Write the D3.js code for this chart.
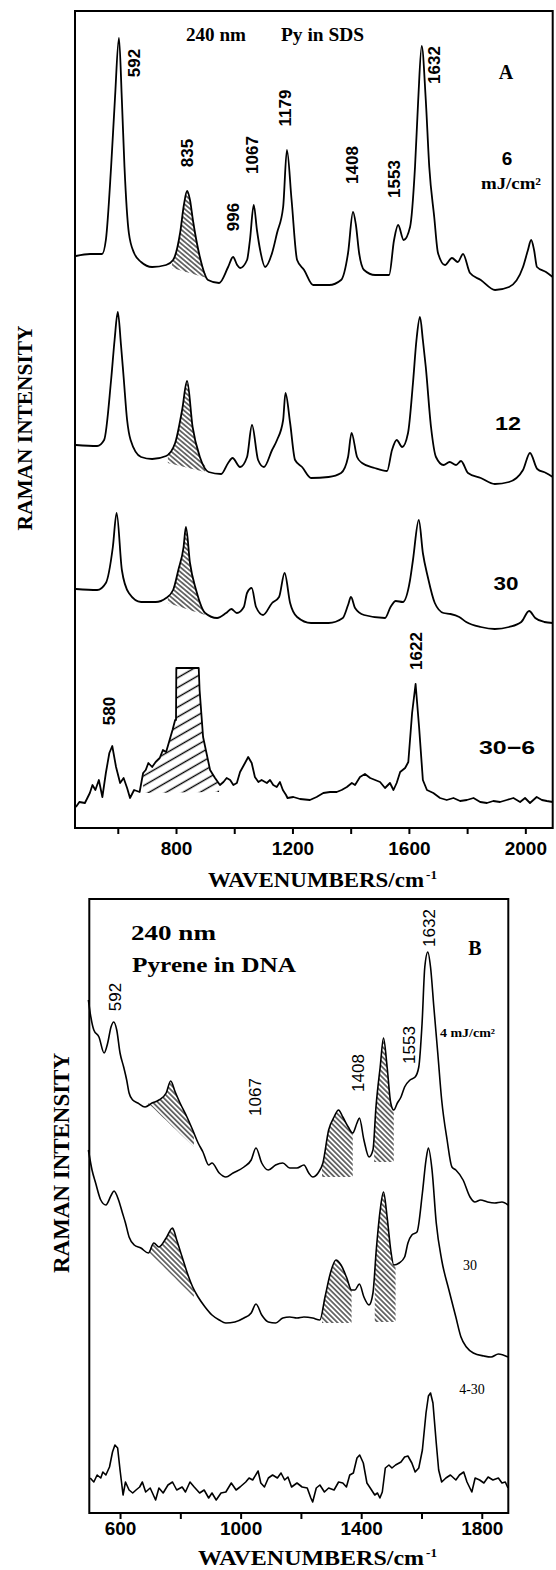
<!DOCTYPE html>
<html><head><meta charset="utf-8">
<script src="https://cdn.jsdelivr.net/npm/d3@7"></script>
<style>body{margin:0;background:#fff}svg{display:block}</style>
</head><body>
<script>
// ---------------- DATA (wavenumber cm-1, intensity arbitrary units) ----------------
const ticksA = [600, 800, 1000, 1200, 1400, 1600, 1800, 2000];
const tickLabelsA = [800, 1200, 1600, 2000];
const ticksB = [600, 800, 1000, 1200, 1400, 1600, 1800];
const tickLabelsB = [600, 1000, 1400, 1800];

const specA6 = [[456,572],[505,574],[546,574],[559,588],[577,661],[590,728],[604,790],[614,728],[623,661],[638,595],[656,575],[680,566],[718,561],[766,563],[790,568],[814,595],[827,623],[838,637],[848,628],[858,608],[882,571],[910,548],[948,545],[979,561],[996,571],[1010,563],[1020,560],[1044,568],[1054,588],[1067,623],[1078,598],[1089,578],[1106,561],[1130,575],[1147,595],[1168,621],[1181,678],[1197,628],[1216,568],[1240,558],[1271,543],[1326,543],[1367,548],[1391,575],[1408,616],[1418,603],[1429,575],[1446,558],[1484,553],[1532,553],[1549,588],[1563,603],[1582,588],[1604,601],[1621,661],[1632,728],[1644,782],[1658,728],[1670,661],[1687,611],[1700,575],[1724,563],[1748,570],[1768,566],[1786,574],[1810,555],[1847,548],[1896,538],[1944,541],[1992,561],[2009,578],[2020,588],[2030,578],[2040,561],[2071,556],[2094,551]];

const specA12 = [[456,383],[529,382],[553,388],[577,448],[589,488],[600,516],[611,483],[620,451],[632,408],[644,388],[680,371],[718,369],[766,372],[797,385],[821,418],[838,447],[857,401],[882,371],[912,356],[955,354],[979,365],[994,370],[1020,361],[1044,371],[1061,403],[1082,368],[1102,361],[1130,378],[1147,388],[1168,408],[1176,435],[1192,405],[1209,368],[1233,361],[1264,350],[1324,351],[1367,355],[1391,371],[1403,395],[1422,371],[1439,365],[1482,360],[1525,357],[1542,378],[1558,388],[1577,381],[1597,395],[1614,445],[1626,488],[1638,511],[1648,488],[1658,461],[1676,401],[1693,371],[1719,363],[1740,366],[1762,363],[1779,367],[1803,355],[1847,350],[1895,344],[1944,346],[1992,358],[2016,375],[2041,359],[2071,355],[2094,351]];

const specA30 = [[456,239],[529,238],[559,245],[583,281],[596,315],[614,258],[638,235],[680,226],[730,226],[766,230],[790,238],[808,258],[826,281],[834,301],[848,265],[869,238],[900,215],[941,210],[972,215],[990,219],[1009,215],[1033,221],[1044,235],[1060,240],[1075,221],[1099,213],[1130,225],[1154,231],[1173,255],[1192,225],[1216,211],[1264,205],[1324,205],[1373,210],[1391,223],[1401,231],[1415,220],[1446,213],[1518,210],[1537,221],[1555,227],[1579,226],[1604,248],[1614,268],[1634,308],[1648,275],[1665,251],[1689,225],[1719,215],[1743,214],[1773,211],[1797,206],[1847,201],[1895,199],[1944,201],[1986,206],[2013,217],[2034,210],[2065,206],[2094,205]];

const specA30m6 = [[456,21],[468,26],[487,25],[504,35],[513,43],[523,38],[535,48],[547,31],[559,55],[571,75],[581,82],[594,61],[608,45],[620,50],[632,40],[642,30],[656,38],[675,36],[687,55],[696,58],[705,65],[718,61],[730,66],[744,70],[755,78],[766,76],[778,88],[788,98],[797,108],[800,108],[801,160],[878,160],[881,138],[893,91],[917,58],[934,50],[951,43],[963,46],[974,50],[986,48],[997,43],[1009,45],[1020,56],[1037,65],[1048,71],[1060,65],[1071,51],[1083,46],[1094,48],[1112,45],[1123,48],[1134,43],[1146,41],[1157,46],[1167,38],[1178,33],[1183,30],[1203,31],[1226,29],[1260,28],[1283,31],[1306,35],[1329,36],[1352,36],[1369,38],[1387,41],[1404,45],[1415,43],[1432,51],[1449,54],[1467,50],[1484,48],[1501,46],[1518,40],[1535,45],[1547,38],[1558,45],[1570,56],[1587,60],[1598,66],[1611,115],[1623,144],[1635,101],[1648,48],[1662,38],[1684,35],[1707,30],[1730,28],[1753,30],[1776,27],[1799,28],[1822,30],[1845,26],[1868,25],[1890,27],[1913,26],[1936,28],[1959,30],[1982,26],[1999,30],[2016,25],[2039,31],[2057,28],[2074,27],[2094,26]];

const specB4 = [[495,513],[501,500],[513,483],[530,476],[547,460],[559,470],[570,486],[579,491],[589,483],[600,460],[612,446],[622,433],[630,420],[642,413],[659,410],[683,406],[706,410],[729,413],[753,420],[768,432],[783,421],[799,410],[822,396],[841,383],[859,370],[875,361],[894,348],[905,350],[929,340],[951,336],[975,340],[1011,346],[1035,353],[1051,365],[1070,350],[1092,343],[1116,348],[1140,350],[1163,345],[1187,345],[1210,348],[1226,340],[1239,336],[1257,340],[1273,350],[1292,383],[1310,396],[1325,403],[1339,396],[1357,386],[1372,380],[1386,390],[1394,395],[1409,373],[1426,356],[1439,363],[1449,406],[1463,446],[1474,475],[1486,446],[1498,410],[1508,403],[1520,410],[1532,416],[1544,426],[1562,433],[1579,436],[1591,446],[1602,490],[1611,546],[1621,561],[1630,546],[1641,506],[1654,460],[1667,413],[1685,373],[1701,346],[1714,343],[1738,333],[1761,316],[1777,311],[1796,313],[1819,311],[1843,310],[1867,311],[1887,308]];

const specB30 = [[495,363],[507,343],[519,330],[536,313],[553,308],[571,318],[580,322],[595,313],[607,301],[618,290],[630,276],[647,268],[669,265],[694,260],[712,270],[729,266],[753,275],[774,285],[788,273],[806,256],[823,240],[841,226],[859,216],[882,206],[905,198],[929,193],[951,190],[981,191],[1011,195],[1035,200],[1051,209],[1070,198],[1092,191],[1116,190],[1140,195],[1163,196],[1187,195],[1210,196],[1239,195],[1263,193],[1280,216],[1298,240],[1316,253],[1333,248],[1351,236],[1368,223],[1379,223],[1394,229],[1409,216],[1426,208],[1439,220],[1450,263],[1463,303],[1474,321],[1486,296],[1498,263],[1508,248],[1526,250],[1544,256],[1555,270],[1568,278],[1585,281],[1603,320],[1615,353],[1623,365],[1635,343],[1649,290],[1667,253],[1691,223],[1714,196],[1731,176],[1749,166],[1772,160],[1807,157],[1831,156],[1855,159],[1887,156]];

const specB4m30 = [[501,35],[513,31],[524,38],[536,35],[543,41],[553,38],[565,46],[575,61],[583,68],[592,65],[600,43],[610,18],[618,31],[630,23],[642,20],[653,23],[665,26],[674,31],[685,21],[700,25],[718,13],[729,25],[743,20],[759,28],[774,31],[788,23],[806,26],[817,21],[832,31],[846,26],[864,20],[879,23],[894,15],[905,20],[919,13],[935,20],[951,21],[969,30],[985,23],[998,26],[1017,31],[1028,35],[1040,33],[1058,42],[1067,30],[1079,26],[1092,35],[1106,38],[1122,35],[1134,40],[1146,33],[1157,36],[1169,26],[1187,30],[1204,26],[1221,25],[1233,15],[1239,11],[1251,25],[1263,28],[1278,21],[1292,25],[1310,23],[1325,31],[1339,30],[1351,26],[1362,38],[1374,40],[1386,55],[1395,58],[1407,50],[1419,30],[1430,25],[1445,18],[1454,20],[1462,15],[1470,21],[1480,45],[1492,48],[1502,45],[1514,48],[1532,51],[1544,56],[1555,57],[1568,50],[1579,41],[1591,45],[1603,63],[1615,100],[1623,117],[1630,120],[1638,110],[1649,70],[1657,43],[1667,31],[1681,35],[1696,38],[1714,33],[1726,38],[1740,41],[1751,31],[1767,21],[1778,35],[1793,33],[1807,30],[1821,36],[1837,33],[1855,35],[1867,30],[1878,31],[1887,25]];

// hatched regions: [from, to, baseline intensity at from, at to]
const hatchA6 = [[786, 907, 560, 550]];
const hatchA12 = [[772, 900, 365, 356]];
const hatchA30 = [[772, 900, 225, 213]];
const hatchA30m6 = [[687, 948, 35, 36]];
const hatchB4 = [[693, 845, 410, 366], [1270, 1372, 336, 336], [1443, 1508, 351, 351]];
const hatchB30 = [[699, 845, 260, 216], [1270, 1368, 190, 190], [1445, 1514, 191, 191]];

// peak labels: [text, wavenumber, intensity]
const peakLabelsA = [["592",659,765],["835",838,675],["996",996,611],["1067",1063,673],["1179",1176,720],["1408",1407,663],["1553",1549,649],["1632",1689,763],["580",571,117],["1622",1625,177]];
const peakLabelsB = [["592",585,516],["1067",1051,416],["1408",1392,440],["1553",1559,468],["1632",1625,585]];

// ---------------- RENDER ----------------
const svg = d3.select("body").append("svg").attr("width",556).attr("height",1570);
const defs = svg.append("defs");
function hatchPattern(id, angle, spacing, sw){
  const p = defs.append("pattern").attr("id",id).attr("patternUnits","userSpaceOnUse")
    .attr("width",20).attr("height",spacing).attr("patternTransform",`rotate(${angle})`);
  p.append("line").attr("x1",0).attr("x2",20).attr("y1",spacing/2).attr("y2",spacing/2)
    .attr("stroke","#000").attr("stroke-width",sw);
}
hatchPattern("hBack",40,3.6,1.1);
hatchPattern("hFwd",-30,8.5,1.4);
hatchPattern("hB",45,3.6,1.1);

const SANS = "'Liberation Sans', Arial, sans-serif";
const SERIF = "'Liberation Serif', 'DejaVu Serif', serif";

function interp(data, w){
  for(let i=0;i<data.length-1;i++){
    const a=data[i], b=data[i+1];
    if(w>=a[0] && w<=b[0]){ const t=(w-a[0])/(b[0]-a[0]||1); return a[1]+t*(b[1]-a[1]); }
  }
  return data[data.length-1][1];
}

function drawPanel(cfg){
  const x = d3.scaleLinear().domain(cfg.xDomain).range([cfg.left, cfg.right]);
  const y = d3.scaleLinear().domain(cfg.yDomain).range([cfg.bottom, cfg.top]);
  const g = svg.append("g");
  cfg.series.forEach(s=>{
    (s.hatch||[]).forEach(h=>{
      const [w1,w2,b1,b2]=h;
      const pts=[[w1,interp(s.data,w1)]].concat(s.data.filter(d=>d[0]>w1&&d[0]<w2)).concat([[w2,interp(s.data,w2)]]);
      const area=d3.area().x(d=>x(d[0])).y1(d=>y(d[1]))
        .y0(d=>y(b1+(b2-b1)*(d[0]-w1)/(w2-w1))).curve(s.curve);
      g.append("path").attr("d",area(pts)).attr("fill",`url(#${s.pattern})`).attr("stroke","none");
    });
  });
  cfg.series.forEach(s=>{
    const line=d3.line().x(d=>x(d[0])).y(d=>y(d[1])).curve(s.curve);
    g.append("path").attr("d",line(s.data)).attr("fill","none").attr("stroke","#000")
      .attr("stroke-width",s.sw).attr("stroke-linejoin","round");
  });
  g.append("rect").attr("x",cfg.left).attr("y",cfg.top).attr("width",cfg.right-cfg.left)
    .attr("height",cfg.bottom-cfg.top).attr("fill","none").attr("stroke","#000").attr("stroke-width",2);
  const ax = d3.axisBottom(x).tickValues(cfg.ticks).tickSize(6).tickPadding(cfg.pad)
    .tickFormat(d=>cfg.labels.includes(d)?String(d):"");
  const axg = g.append("g").attr("transform",`translate(0,${cfg.bottom})`).call(ax);
  axg.select(".domain").remove();
  axg.selectAll(".tick line").attr("stroke","#000").attr("stroke-width",2);
  axg.selectAll(".tick text").attr("fill","#000").style("font-family",SANS)
    .style("font-weight","bold").style("font-size","19px");
  cfg.peaks.forEach(p=>{
    g.append("text").attr("transform",`translate(${x(p[1])},${y(p[2])}) rotate(-90)`)
      .attr("text-anchor","middle").attr("dominant-baseline","central")
      .style("font-family",SANS).style("font-weight",cfg.peakWeight).style("font-size",cfg.peakSize+"px")
      .text(p[0]);
  });
  return {x,y,g};
}

drawPanel({
  xDomain:[453,2094], yDomain:[0,817], left:75, right:552.7, top:11, bottom:828,
  ticks:ticksA, labels:tickLabelsA, pad:8, peaks:peakLabelsA, peakWeight:"bold", peakSize:17,
  series:[
    {data:specA6, curve:d3.curveMonotoneX, sw:1.8, hatch:hatchA6, pattern:"hBack"},
    {data:specA12, curve:d3.curveMonotoneX, sw:1.8, hatch:hatchA12, pattern:"hBack"},
    {data:specA30, curve:d3.curveMonotoneX, sw:1.8, hatch:hatchA30, pattern:"hBack"},
    {data:specA30m6, curve:d3.curveLinear, sw:1.8, hatch:hatchA30m6, pattern:"hFwd"}
  ]
});
drawPanel({
  xDomain:[498,1888], yDomain:[0,614], left:89.3, right:508.3, top:899, bottom:1513,
  ticks:ticksB, labels:tickLabelsB, pad:3, peaks:peakLabelsB, peakWeight:"normal", peakSize:17,
  series:[
    {data:specB4, curve:d3.curveMonotoneX, sw:1.6, hatch:hatchB4, pattern:"hB"},
    {data:specB30, curve:d3.curveMonotoneX, sw:1.6, hatch:hatchB30, pattern:"hB"},
    {data:specB4m30, curve:d3.curveLinear, sw:1.6, hatch:[], pattern:"hB"}
  ]
});

// ---------------- TEXT ----------------
function txt(s, x, y, o){
  const t = svg.append("text").attr("x",x).attr("y",y).text(s)
    .attr("text-anchor",o.anchor||"start").attr("dominant-baseline",o.base||"central")
    .style("font-family",o.family||SERIF).style("font-weight",o.weight||"bold").style("font-size",(o.size||18)+"px");
  if(o.len) t.attr("textLength",o.len).attr("lengthAdjust","spacingAndGlyphs");
  if(o.rot) t.attr("transform",`rotate(${o.rot},${x},${y})`);
  return t;
}
// Panel A
txt("240 nm",186,35,{size:18,len:60});
txt("Py in SDS",281,35,{size:18,len:83});
txt("A",506,72,{size:20,anchor:"middle"});
txt("6",507,158,{family:SANS,size:19,anchor:"middle"});
txt("mJ/cm²",481,183,{size:16,len:60});
txt("12",508,423,{family:SANS,size:19,anchor:"middle",len:26});
txt("30",506,583,{family:SANS,size:19,anchor:"middle",len:25});
txt("30−6",479,747,{family:SANS,size:19,len:56});
txt("RAMAN INTENSITY",25,428,{size:21,anchor:"middle",len:205,rot:-90});
txt("WAVENUMBERS/cm",208,887,{size:20,len:216,base:"auto"});
txt("-1",426,879,{size:12,len:11,base:"auto"});
// Panel B
txt("240 nm",131,933,{size:21,len:85});
txt("Pyrene in DNA",132,965,{size:21,len:164});
txt("B",475,948,{size:20,anchor:"middle"});
txt("4 mJ/cm²",440,1032,{size:13,len:55});
txt("30",470,1265,{size:14,anchor:"middle",weight:"normal"});
txt("4-30",472,1389,{size:14,anchor:"middle",weight:"normal"});
txt("RAMAN INTENSITY",61,1163,{size:23,anchor:"middle",len:220,rot:-90});
txt("WAVENUMBERS/cm",198,1565,{size:21,len:226,base:"auto"});
txt("-1",426,1557,{size:13,len:11,base:"auto"});
</script>
</body></html>
